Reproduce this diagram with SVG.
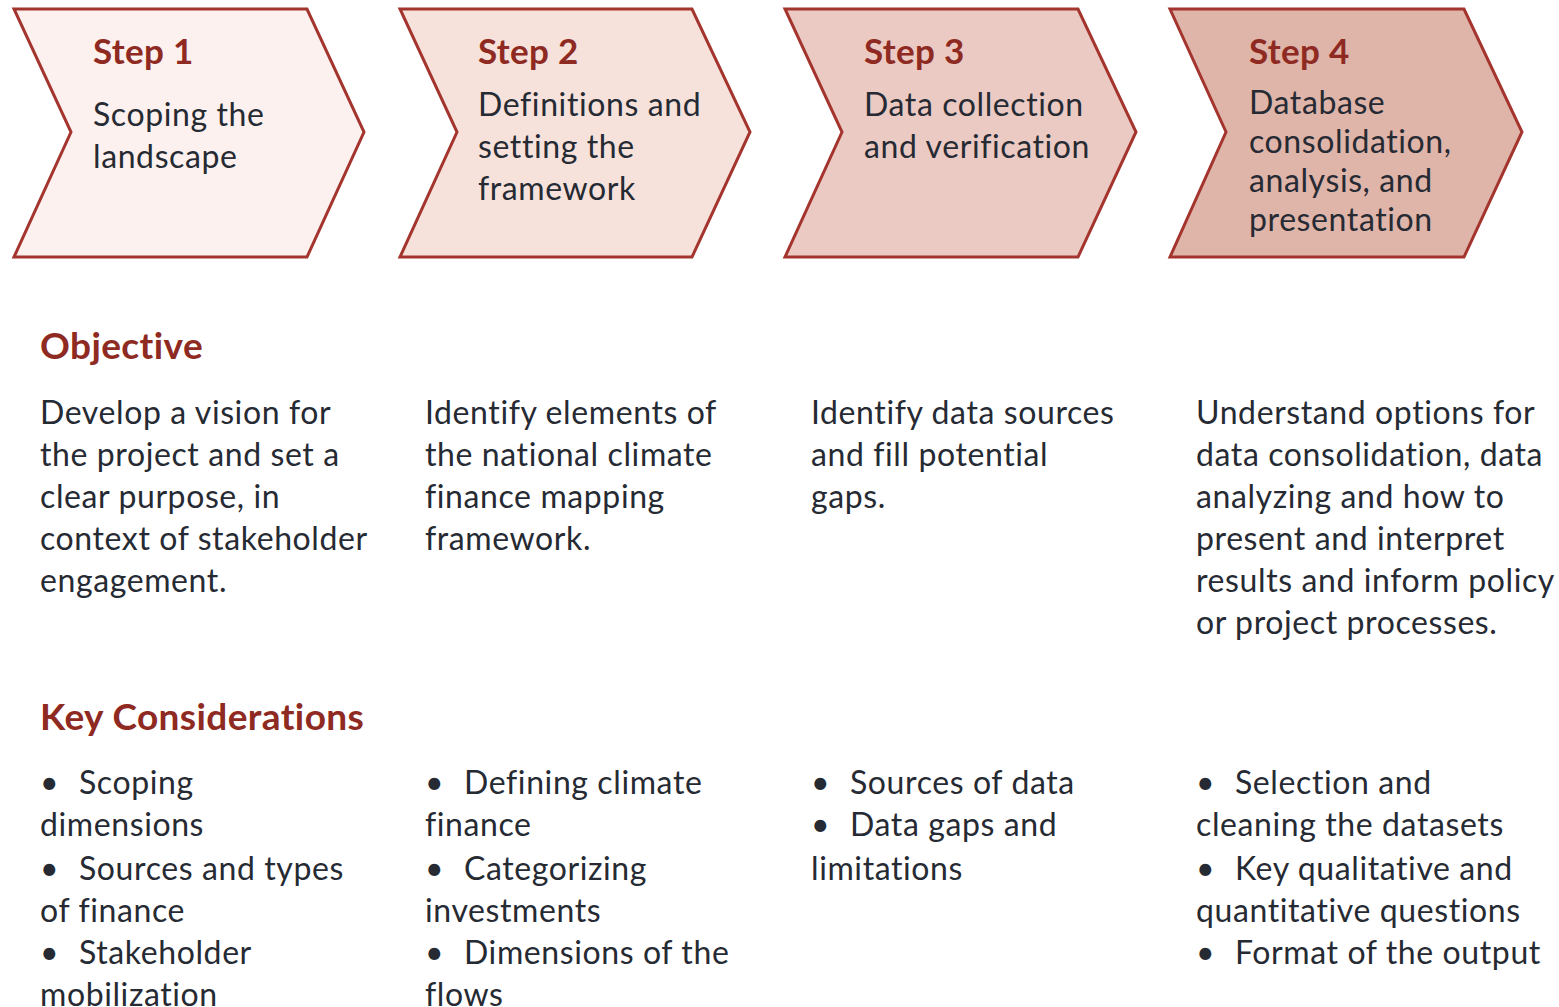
<svg xmlns="http://www.w3.org/2000/svg" width="1559" height="1007" viewBox="0 0 1559 1007">
<style>
.chev{stroke:#a3352e;stroke-width:3;stroke-linejoin:miter}
.st{font-family:Lato,"Noto Sans",sans-serif;font-weight:bold;font-size:35px;letter-spacing:0.3px;fill:#8e2a22}
.bd{font-family:Lato,"Noto Sans",sans-serif;font-size:32px;letter-spacing:0.6px;fill:#262a33}
.hd{font-family:Lato,"Noto Sans",sans-serif;font-weight:bold;font-size:37px;letter-spacing:0.4px;fill:#8e2a22}
</style>
<rect width="1559" height="1007" fill="#ffffff"/>
<g id="step1">
<polygon class="chev" fill="#fcf1ee" points="14,9 307,9 364,132 307,257 14,257 71,132"/>
<text class="st" x="93" y="64">Step 1</text>
<text class="bd" x="93" y="126">Scoping the</text>
<text class="bd" x="93" y="168">landscape</text>
</g>
<g id="step2">
<polygon class="chev" fill="#f6e2db" points="400,9 692,9 750,132 692,257 400,257 457,132"/>
<text class="st" x="478" y="64">Step 2</text>
<text class="bd" x="478" y="116">Definitions and</text>
<text class="bd" x="478" y="158">setting the</text>
<text class="bd" x="478" y="200">framework</text>
</g>
<g id="step3">
<polygon class="chev" fill="#eccac4" points="785,9 1078,9 1136,132 1078,257 785,257 842,132"/>
<text class="st" x="864" y="64">Step 3</text>
<text class="bd" x="864" y="116">Data collection</text>
<text class="bd" x="864" y="158">and verification</text>
</g>
<g id="step4">
<polygon class="chev" fill="#dfb4a9" points="1170,9 1464,9 1522,132 1464,257 1170,257 1226,132"/>
<text class="st" x="1249" y="64">Step 4</text>
<text class="bd" x="1249" y="114">Database</text>
<text class="bd" x="1249" y="153">consolidation,</text>
<text class="bd" x="1249" y="192">analysis, and</text>
<text class="bd" x="1249" y="231">presentation</text>
</g>
<g id="connectors"></g>
<g id="objective">
<text class="hd" x="40" y="359">Objective</text>
<text class="bd" x="40" y="424">Develop a vision for</text>
<text class="bd" x="40" y="466">the project and set a</text>
<text class="bd" x="40" y="508">clear purpose, in</text>
<text class="bd" x="40" y="550">context of stakeholder</text>
<text class="bd" x="40" y="592">engagement.</text>
<text class="bd" x="425" y="424">Identify elements of</text>
<text class="bd" x="425" y="466">the national climate</text>
<text class="bd" x="425" y="508">finance mapping</text>
<text class="bd" x="425" y="550">framework.</text>
<text class="bd" x="811" y="424">Identify data sources</text>
<text class="bd" x="811" y="466">and fill potential</text>
<text class="bd" x="811" y="508">gaps.</text>
<text class="bd" x="1196" y="424">Understand options for</text>
<text class="bd" x="1196" y="466">data consolidation, data</text>
<text class="bd" x="1196" y="508">analyzing and how to</text>
<text class="bd" x="1196" y="550">present and interpret</text>
<text class="bd" x="1196" y="592">results and inform policy</text>
<text class="bd" x="1196" y="634">or project processes.</text>
</g>
<g id="considerations">
<text class="hd" x="40" y="730">Key Considerations</text>
<text class="bd" x="40" y="794">•<tspan x="79">Scoping</tspan></text>
<text class="bd" x="40" y="836">dimensions</text>
<text class="bd" x="40" y="880">•<tspan x="79">Sources and types</tspan></text>
<text class="bd" x="40" y="922">of finance</text>
<text class="bd" x="40" y="964">•<tspan x="79">Stakeholder</tspan></text>
<text class="bd" x="40" y="1006">mobilization</text>
<text class="bd" x="425" y="794">•<tspan x="464">Defining climate</tspan></text>
<text class="bd" x="425" y="836">finance</text>
<text class="bd" x="425" y="880">•<tspan x="464">Categorizing</tspan></text>
<text class="bd" x="425" y="922">investments</text>
<text class="bd" x="425" y="964">•<tspan x="464">Dimensions of the</tspan></text>
<text class="bd" x="425" y="1006">flows</text>
<text class="bd" x="811" y="794">•<tspan x="850">Sources of data</tspan></text>
<text class="bd" x="811" y="836">•<tspan x="850">Data gaps and</tspan></text>
<text class="bd" x="811" y="880">limitations</text>
<text class="bd" x="1196" y="794">•<tspan x="1235">Selection and</tspan></text>
<text class="bd" x="1196" y="836">cleaning the datasets</text>
<text class="bd" x="1196" y="880">•<tspan x="1235">Key qualitative and</tspan></text>
<text class="bd" x="1196" y="922">quantitative questions</text>
<text class="bd" x="1196" y="964">•<tspan x="1235">Format of the output</tspan></text>
</g>
</svg>
